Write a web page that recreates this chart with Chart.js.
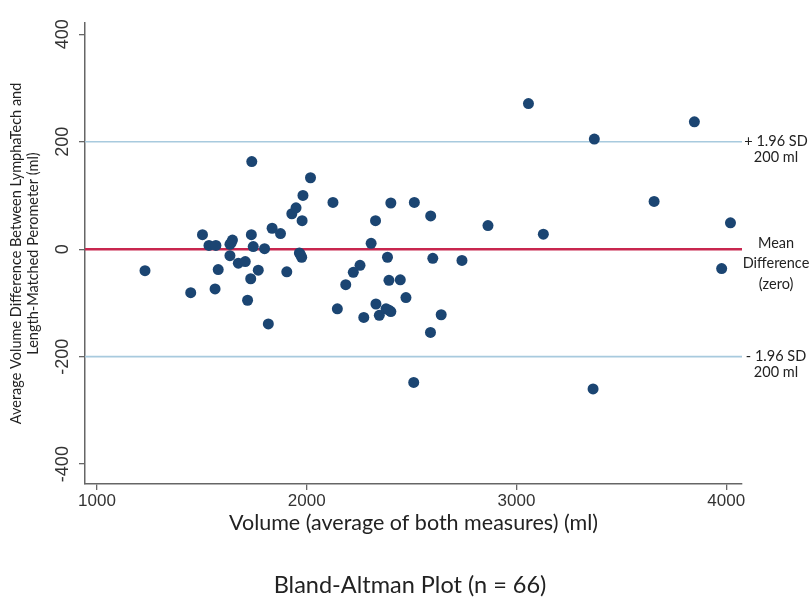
<!DOCTYPE html>
<html>
<head>
<meta charset="utf-8">
<script src="https://cdn.jsdelivr.net/npm/chart.js@4.4.1/dist/chart.umd.min.js"></script>
<style>
  html, body { margin: 0; padding: 0; background: #fff; }
  #wrap { width: 812px; height: 600px; position: relative; }
</style>
</head>
<body>
<div id="wrap"><canvas id="chart" width="812" height="600"></canvas></div>
<script>
// ----- data (ml) -----
const volumeAvg = [
    1229, 1447, 1503, 1534, 1567, 1563, 1578, 1634, 1646, 1634, 1674, 1707,
    1738, 1736, 1745, 1733, 1769, 1718, 1799, 1817, 1835, 1875, 1905, 1929,
    1949, 1982, 1978, 2018, 1965, 1976, 2125, 2146, 2186, 2222, 2254, 2272,
    2307, 2328, 2330, 2346, 2378, 2401, 2385, 2392, 2446, 2401, 2473, 2513,
    2510, 2591, 2601, 2590, 2641, 2740, 2864, 3057, 3128, 3371, 3365, 3656,
    3848, 4020, 3978, 1640, 2390, 1970
];
const volumeDiff = [
    -40, -81, 27, 7, 7, -74, -38, 9, 17, -12, -26, -23,
    163, 27, 5, -55, -39, -95, 1, -139, 39, 29, -42, 66,
    77, 100, 53, 133, -7, -15, 87, -111, -66, -43, -30, -127,
    11, 53, -102, -123, -111, -116, -15, -58, -57, 86, -90, 87,
    -248, 62, -17, -155, -122, -21, 44, 271, 28, 205, -260, 89,
    237, 49, -36, 12, -113, -10
];

const xTicks = [1000, 2000, 3000, 4000];
const yTicks = [-400, -200, 0, 200, 400];
const xRange = [943, 4075];
const yRange = [-437, 421];

// reference lines: upper limit, mean, lower limit
const refValues = [200, 0, -200];
const refLabels = [["+ 1.96 SD", "200 ml"], ["Mean", "Difference", "(zero)"], ["- 1.96 SD", "200 ml"]];

const chartTitle = "Bland-Altman Plot (n = 66)";

const TICK_FAMILY = "'Liberation Sans', Arial, sans-serif";
const TEXT_FONT = "Lato, 'Open Sans', sans-serif";

// ----- build datasets -----
const points = volumeAvg.map((v, i) => ({ x: v, y: volumeDiff[i] }));

function refLine(value, color, width) {
    return {
        type: "line",
        data: [{ x: xRange[0], y: value }, { x: xRange[1], y: value }],
        borderColor: color,
        borderWidth: width,
        pointRadius: 0,
        order: 2
    };
}

// y tick labels (rotated), labels right of the plot, caption below
const extraText = {
    id: "extraText",
    afterDraw(chart) {
        const ctx = chart.ctx;
        const ys = chart.scales.y;
        const area = chart.chartArea;
        ctx.save();

        // vertical tick labels on y axis
        ctx.font = "18px " + TICK_FAMILY;
        ctx.fillStyle = "#333";
        ctx.textAlign = "center";
        ctx.textBaseline = "middle";
        yTicks.forEach(function (t) {
            const py = ys.getPixelForValue(t);
            ctx.save();
            ctx.translate(area.left - 22, py);
            ctx.rotate(-Math.PI / 2);
            ctx.fillText(String(t), 0, 0);
            ctx.restore();
        });

        // right-hand annotations
        ctx.font = "14.5px " + TEXT_FONT;
        ctx.fillStyle = "#222";
        const cx = area.right + 34;
        refValues.forEach(function (v, i) {
            const py = ys.getPixelForValue(v);
            const lines = refLabels[i];
            const start = lines.length === 3 ? py - 6 : py;
            const step = lines.length === 3 ? 20.5 : 16;
            lines.forEach(function (txt, j) {
                ctx.fillText(txt, cx, start + j * step);
            });
        });

        // caption under the chart
        ctx.font = "23.5px " + TEXT_FONT;
        ctx.fillStyle = "#222";
        ctx.fillText(chartTitle, 410, 585);
        ctx.restore();
    }
};

new Chart(document.getElementById("chart"), {
    type: "scatter",
    data: {
        datasets: [
            {
                data: points,
                backgroundColor: "#1b4572",
                borderWidth: 0,
                pointRadius: 5.5,
                order: 0
            },
            refLine(refValues[0], "#a8cade", 1.6),
            refLine(refValues[1], "#c8264f", 2.6),
            refLine(refValues[2], "#a8cade", 1.6)
        ]
    },
    options: {
        responsive: false,
        animation: false,
        devicePixelRatio: 1,
        layout: { padding: { left: 0, right: 70, top: 23, bottom: 0 } },
        plugins: {
            legend: { display: false },
            tooltip: { enabled: false }
        },
        scales: {
            x: {
                type: "linear",
                min: xRange[0],
                max: xRange[1],
                afterBuildTicks: s => { s.ticks = xTicks.map(v => ({ value: v })); },
                afterFit: s => { s.height = 116; },
                grid: { drawOnChartArea: false, drawTicks: true, tickLength: 6, color: "#666", lineWidth: 1.3 },
                border: { color: "#666", width: 1.5 },
                ticks: {
                    color: "#333",
                    font: { family: TICK_FAMILY, size: 17 },
                    padding: 1,
                    maxRotation: 0,
                    callback: v => String(v)
                },
                title: {
                    display: true,
                    text: "Volume (average of both measures) (ml)",
                    color: "#222",
                    font: { family: TEXT_FONT, size: 21.5 },
                    padding: { top: 0, bottom: 64 }
                }
            },
            y: {
                type: "linear",
                min: yRange[0],
                max: yRange[1],
                afterBuildTicks: s => { s.ticks = yTicks.map(v => ({ value: v })); },
                afterFit: s => { s.width = 85; },
                grid: { drawOnChartArea: false, drawTicks: true, tickLength: 6, color: "#666", lineWidth: 1.3 },
                border: { color: "#666", width: 1.5 },
                ticks: { display: false },
                title: {
                    display: true,
                    text: ["Average Volume Difference Between LymphaTech and", "Length-Matched Perometer (ml)"],
                    color: "#222",
                    font: { family: TEXT_FONT, size: 14.5, lineHeight: 1.17 },
                    padding: { top: 8, bottom: 0 }
                }
            }
        }
    },
    plugins: [extraText]
});
</script>
</body>
</html>
